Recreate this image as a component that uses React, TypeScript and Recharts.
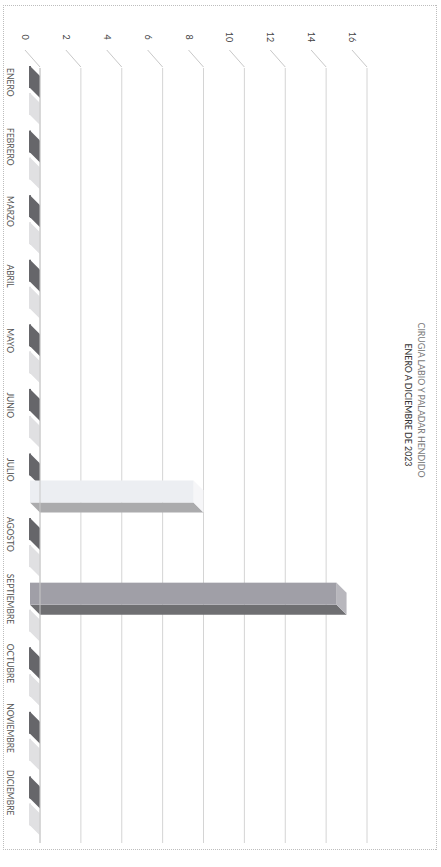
import { BarChart, Bar, XAxis, YAxis, CartesianGrid } from "recharts";

const months = [
  "ENERO",
  "FEBRERO",
  "MARZO",
  "ABRIL",
  "MAYO",
  "JUNIO",
  "JULIO",
  "AGOSTO",
  "SEPTIEMBRE",
  "OCTUBRE",
  "NOVIEMBRE",
  "DICIEMBRE",
];
const serieA = [0, 0, 0, 0, 0, 0, 0, 0, 15, 0, 0, 0];
const serieB = [0, 0, 0, 0, 0, 0, 8, 0, 0, 0, 0, 0];
const valueTicks = [0, 2, 4, 6, 8, 10, 12, 14, 16];

const data = months.map((mes, i) => ({ mes, a: serieA[i], b: serieB[i] }));

const DEPTH = 10;
const FONT = "Lato, 'Open Sans', sans-serif";

// 3D-ish column: recharts rect is the back face, front face shifted by DEPTH
function column(front: string, side: string, top: string, zero: string) {
  return (props: any) => {
    const { x, y, width, value } = props;
    const w = width;
    const h = Math.max(props.height, 0);
    const fx = x - DEPTH;
    const fy = y + DEPTH;
    if (!value) {
      const base = y + h;
      return (
        <g>
          <polygon
            points={`${fx},${base + DEPTH} ${fx + w},${base + DEPTH} ${x + w},${base} ${x},${base}`}
            fill={zero}
          />
          <rect x={fx} y={base + DEPTH - 1} width={w} height={2} fill={zero} />
        </g>
      );
    }
    return (
      <g>
        <polygon
          points={`${fx + w},${fy} ${x + w},${y} ${x + w},${y + h} ${fx + w},${fy + h}`}
          fill={side}
        />
        <polygon
          points={`${fx},${fy} ${fx + w},${fy} ${x + w},${y} ${x},${y}`}
          fill={top}
        />
        <rect x={fx} y={fy} width={w} height={h} fill={front} />
      </g>
    );
  };
}

const ValueTick = (props: any) => {
  const { y, payload } = props;
  return (
    <g>
      <line x1={50} y1={y + 15} x2={67} y2={y} stroke="#c8c8c8" strokeWidth={1} />
      <text
        x={37}
        y={y + 18}
        textAnchor="middle"
        fontSize={9}
        fontFamily={FONT}
        fill="#444"
      >
        {payload.value}
      </text>
    </g>
  );
};

const MonthTick = (props: any) => {
  const { x, payload } = props;
  return (
    <text
      x={x - 18}
      y={434}
      textAnchor="middle"
      fontSize={8.5}
      fontFamily={FONT}
      fill="#555"
    >
      {payload.value}
    </text>
  );
};

export default function App() {
  return (
    <div
      style={{
        position: "absolute",
        top: 0,
        left: 0,
        width: 441,
        height: 867,
        background: "#fff",
        overflow: "hidden",
      }}
    >
      <div
        style={{
          position: "absolute",
          top: 0,
          left: 0,
          width: 867,
          height: 441,
          transformOrigin: "0 0",
          transform: "translate(441px, 0) rotate(90deg)",
        }}
      >
        <div
          style={{
            position: "absolute",
            left: 5,
            top: 4,
            width: 845,
            height: 434,
            border: "1px dotted #bdbdbd",
            boxSizing: "border-box",
          }}
        />
        <div
          style={{
            position: "absolute",
            left: 400,
            top: 14,
            transform: "translateX(-50%)",
            whiteSpace: "nowrap",
            fontFamily: FONT,
            fontSize: 8.8,
            color: "#7a7a7a",
          }}
        >
          CIRUGIA LABIO Y PALADAR HENDIDO
        </div>
        <div
          style={{
            position: "absolute",
            left: 405,
            top: 27,
            transform: "translateX(-50%)",
            whiteSpace: "nowrap",
            fontFamily: FONT,
            fontSize: 8.8,
            color: "#333",
          }}
        >
          ENERO A DICIEMBRE DE 2023
        </div>
        <div style={{ position: "absolute", left: 0, top: 0 }}>
          <BarChart
            width={867}
            height={441}
            data={data}
            margin={{ top: 74, right: 24, bottom: 10, left: 8 }}
            barSize={22}
            barGap={5}
          >
            <CartesianGrid vertical={false} stroke="#d4d4d4" />
            <XAxis
              dataKey="mes"
              height={30}
              axisLine={{ stroke: "#c8c8c8" }}
              tickLine={false}
              tick={<MonthTick />}
              interval={0}
            />
            <YAxis
              width={60}
              domain={[0, 16]}
              ticks={valueTicks}
              axisLine={false}
              tickLine={false}
              tick={<ValueTick />}
            />
            <Bar
              dataKey="a"
              isAnimationActive={false}
              minPointSize={1}
              shape={column("#a09fa7", "#6f6f72", "#b8b7bd", "#66666a")}
            />
            <Bar
              dataKey="b"
              isAnimationActive={false}
              minPointSize={1}
              shape={column("#eceef2", "#ababad", "#f6f6f8", "#e0e0e2")}
            />
          </BarChart>
        </div>
      </div>
    </div>
  );
}
